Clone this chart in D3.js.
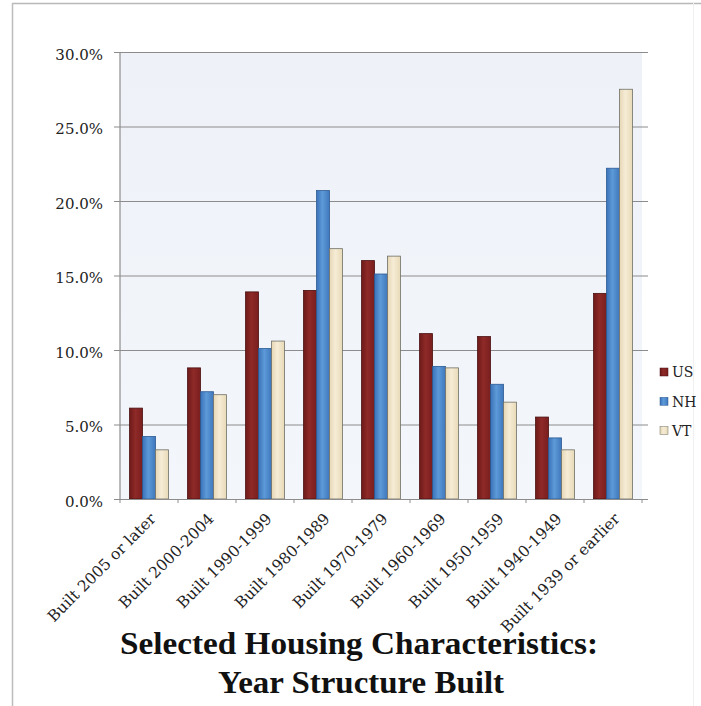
<!DOCTYPE html>
<html>
<head>
<meta charset="utf-8">
<script src="https://cdn.jsdelivr.net/npm/d3@7"></script>
<style>
  html, body { margin: 0; padding: 0; background: #ffffff; }
  svg { display: block; }
</style>
</head>
<body>
<svg id="chart" width="701" height="706"></svg>
<script>
// Year structure built — share of housing units
const categories = [
  "Built 2005 or later", "Built 2000-2004", "Built 1990-1999",
  "Built 1980-1989", "Built 1970-1979", "Built 1960-1969",
  "Built 1950-1959", "Built 1940-1949", "Built 1939 or earlier"
];
const seriesNames = ["US", "NH", "VT"];
const usValues = [6.1, 8.8, 13.9, 14.0, 16.0, 11.1, 10.9, 5.5, 13.8];
const nhValues = [4.2, 7.2, 10.1, 20.7, 15.1, 8.9, 7.7, 4.1, 22.2];
const vtValues = [3.3, 7.0, 10.6, 16.8, 16.3, 8.8, 6.5, 3.3, 27.5];
const yTicks = [0, 5, 10, 15, 20, 25, 30];
const titleLines = ["Selected Housing Characteristics:", "Year Structure Built"];

const seriesValues = [usValues, nhValues, vtValues];
const seriesColors = {
  US: { fill: "url(#gUS)", stroke: "#4a1010" },
  NH: { fill: "url(#gNH)", stroke: "#2c5a92" },
  VT: { fill: "url(#gVT)", stroke: "#6f6f66" }
};

const svg = d3.select("#chart");
const serif = "'DejaVu Serif', 'Liberation Serif', serif";
const titleFont = "'Liberation Serif', 'DejaVu Serif', serif";

// gradients
const defs = svg.append("defs");
function hGrad(id, stops) {
  const g = defs.append("linearGradient").attr("id", id)
    .attr("x1", "0%").attr("x2", "100%").attr("y1", "0%").attr("y2", "0%");
  stops.forEach(([o, c]) => g.append("stop").attr("offset", o).attr("stop-color", c));
}
hGrad("gUS", [["0%", "#6e1a1a"], ["45%", "#8e2a28"], ["100%", "#7a1e1e"]]);
hGrad("gNH", [["0%", "#3a72b8"], ["45%", "#5d9ad8"], ["100%", "#3f78bd"]]);
hGrad("gVT", [["0%", "#e6d6b4"], ["45%", "#f6ecd6"], ["100%", "#e8dab8"]]);
const bg = defs.append("linearGradient").attr("id", "plotBg")
  .attr("x1", "0%").attr("x2", "0%").attr("y1", "0%").attr("y2", "100%");
bg.append("stop").attr("offset", "0%").attr("stop-color", "#eef2f8");
bg.append("stop").attr("offset", "100%").attr("stop-color", "#f3f6fb");

// outer frame
svg.append("line").attr("x1", 12).attr("x2", 701).attr("y1", 3.5).attr("y2", 3.5)
  .attr("stroke", "#b8b8b8").attr("stroke-width", 1.5);
svg.append("line").attr("x1", 12.5).attr("x2", 12.5).attr("y1", 3).attr("y2", 706)
  .attr("stroke", "#bdbdbd").attr("stroke-width", 1.5);
svg.append("line").attr("x1", 693.5).attr("x2", 693.5).attr("y1", 3).attr("y2", 706)
  .attr("stroke", "#f0f0f0").attr("stroke-width", 1);

const plot = { left: 120, right: 642, top: 52, bottom: 499 };

const x = d3.scaleBand().domain(categories).range([plot.left, plot.right]).paddingInner(0.33).paddingOuter(0.165);
const xs = d3.scaleBand().domain(seriesNames).range([0, x.bandwidth()]).padding(0);
const y = d3.scaleLinear().domain([0, 30]).range([plot.bottom, plot.top]);

// plot background
svg.append("rect").attr("x", plot.left).attr("y", plot.top)
  .attr("width", plot.right - plot.left).attr("height", plot.bottom - plot.top)
  .attr("fill", "url(#plotBg)");

// gridlines + y axis
const yAxis = d3.axisLeft(y).tickValues(yTicks)
  .tickSize(-(plot.right - plot.left) - 6)
  .tickFormat(d => d.toFixed(1) + "%");
const gy = svg.append("g").attr("transform", `translate(${plot.left - 6},0)`).call(yAxis);
gy.select(".domain").remove();
gy.selectAll(".tick line").attr("stroke", "#8c8c8c").attr("stroke-width", 1.2)
  .attr("transform", "translate(6,0)").attr("x1", -6);
gy.selectAll(".tick text").attr("x", -11).attr("dy", "0.48em")
  .attr("font-family", serif).attr("font-size", 15).attr("fill", "#222");

// left axis line
svg.append("line").attr("x1", plot.left).attr("x2", plot.left)
  .attr("y1", plot.top).attr("y2", plot.bottom).attr("stroke", "#8c8c8c").attr("stroke-width", 1.2);

// bars
const groups = svg.append("g").selectAll("g").data(categories).join("g")
  .attr("transform", d => `translate(${x(d)},0)`);
groups.selectAll("rect")
  .data((d, i) => seriesNames.map((s, k) => ({ s, v: seriesValues[k][i] })))
  .join("rect")
  .attr("x", d => xs(d.s))
  .attr("width", xs.bandwidth())
  .attr("y", d => y(d.v))
  .attr("height", d => y(0) - y(d.v))
  .attr("fill", d => seriesColors[d.s].fill)
  .attr("stroke", d => seriesColors[d.s].stroke)
  .attr("stroke-width", 0.8);

// x axis
const xAxis = d3.axisBottom(x).tickSize(0).tickSizeOuter(0);
const gx = svg.append("g").attr("transform", `translate(0,${plot.bottom})`).call(xAxis);
gx.select(".domain").attr("stroke", "#8c8c8c").attr("stroke-width", 1.2);
gx.selectAll(".tick text")
  .attr("font-family", serif).attr("font-size", 15.5).attr("fill", "#222")
  .attr("text-anchor", "end")
  .attr("transform", "translate(4,17) rotate(-45)")
  .attr("x", 0).attr("y", 0).attr("dy", "0.35em");
// category separators below axis
svg.append("g").selectAll("line").data(categories.concat(["_end"])).join("line")
  .attr("x1", (d, i) => plot.left + i * (plot.right - plot.left) / categories.length)
  .attr("x2", (d, i) => plot.left + i * (plot.right - plot.left) / categories.length)
  .attr("y1", plot.bottom).attr("y2", plot.bottom + 4)
  .attr("stroke", "#8c8c8c");

// legend
const legend = svg.append("g").attr("transform", "translate(660,372)");
seriesNames.forEach((s, i) => {
  const g = legend.append("g").attr("transform", `translate(0,${i * 29.3})`);
  g.append("rect").attr("x", 0).attr("y", -4).attr("width", 8).attr("height", 8)
    .attr("fill", seriesColors[s].fill).attr("stroke", seriesColors[s].stroke).attr("stroke-width", 0.5);
  g.append("text").attr("x", 12).attr("y", 0).attr("dy", "0.38em")
    .attr("font-family", serif).attr("font-size", 14).attr("fill", "#222").text(s);
});

// title
const titleX = [359, 361];
const titleY = [654, 693];
const titleW = [478, 286];
titleLines.forEach((t, i) => {
  svg.append("text").attr("x", titleX[i]).attr("y", titleY[i])
    .attr("text-anchor", "middle")
    .attr("font-family", titleFont).attr("font-weight", "bold").attr("font-size", 32.5)
    .attr("fill", "#111")
    .attr("textLength", titleW[i]).attr("lengthAdjust", "spacingAndGlyphs")
    .text(t);
});
</script>
</body>
</html>
